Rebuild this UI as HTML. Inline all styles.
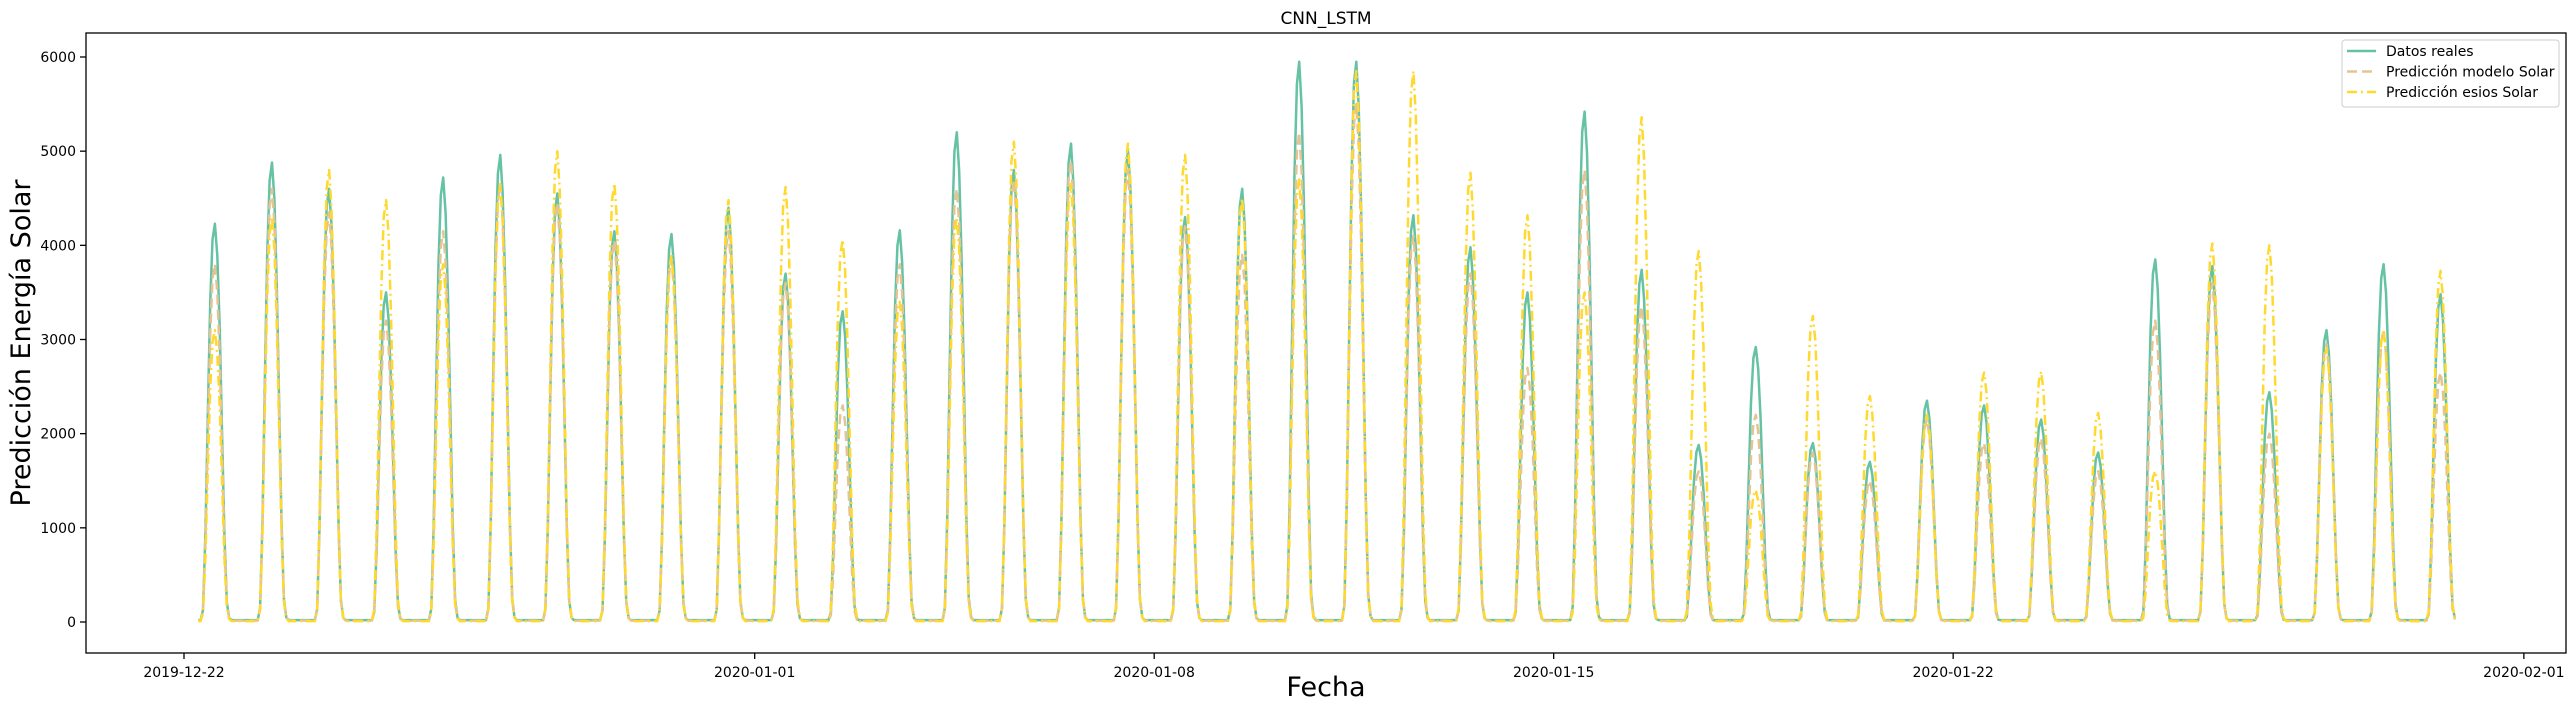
<!DOCTYPE html>
<html><head><meta charset="utf-8"><style>
html,body{margin:0;padding:0;background:#fff;}
svg{display:block;font-family:"DejaVu Sans","Liberation Sans",sans-serif;}
</style></head><body>
<svg id="chart" width="2575" height="711" viewBox="0 0 2575 711" xmlns="http://www.w3.org/2000/svg"></svg>
<script>
// Data (daily peaks, one per day from 2019-12-22 to 2020-01-30)
const startDate = "2019-12-22";
const realPeaks  = [4230,4880,4600,3500,4720,4960,4550,4150,4120,4400,3700,3300,4160,5200,4800,5080,5000,4300,4600,5950,5950,4320,3980,3500,5420,3740,1880,2920,1900,1700,2350,2300,2150,1800,3850,3780,2440,3100,3800,3480];
const modelPeaks = [3800,4600,4350,3200,4150,4650,4450,4050,3850,4150,3600,2300,3800,4600,4700,4900,4800,4200,3900,5200,5500,4100,3700,2700,4800,3350,1600,2200,1800,1500,2150,1900,1950,1600,3200,3600,2000,2950,3100,2650];
const esiosPeaks = [3100,4300,4800,4480,3800,4650,5000,4660,3900,4480,4620,4060,3400,4300,5100,4650,5080,4960,4500,4700,5850,5850,4770,4320,3500,5360,3940,1400,3250,2400,2200,2650,2660,2220,1600,4020,4000,2900,3100,3730];
// hourly shape of a day (fraction of daily peak), hours 0..23
const hourProfile = [0,0,0,0,0,0,0,0,0.03,0.22,0.52,0.8,0.96,1.0,0.92,0.74,0.48,0.22,0.05,0.01,0,0,0,0];
const nightBase = [20,15,10];
const firstHour = 6, lastHour = 19;
const yTicks = [0,1000,2000,3000,4000,5000,6000];
const xTickLabels = ["2019-12-22","2020-01-01","2020-01-08","2020-01-15","2020-01-22","2020-02-01"];
const xTickDays = [0,10,17,24,31,41];

const svg = document.getElementById('chart');
const NS = "http://www.w3.org/2000/svg";
const L=86, R=2566, T=33, B=653;
const x = d => 184 + d*57.07;            // d in days since startDate
const y = v => 622 - v*(565/6000);
function mk(tag, attrs){const e=document.createElementNS(NS,tag);for(const k in attrs)e.setAttribute(k,attrs[k]);svg.appendChild(e);return e;}

const series=[
 {peaks:realPeaks,color:"#66c2a5",dash:"",name:"series-datos-reales",base:nightBase[0]},
 {peaks:modelPeaks,color:"#e5c494",dash:"10,5",name:"series-prediccion-modelo",base:nightBase[1]},
 {peaks:esiosPeaks,color:"#ffd92f",dash:"10,4,2,4",name:"series-prediccion-esios",base:nightBase[2]}
];
series.forEach(s=>{
  let pts=[];
  for(let d=0; d<s.peaks.length; d++){
    for(let h=0; h<24; h++){
      if(d===0 && h<firstHour) continue;
      if(d===s.peaks.length-1 && h>lastHour) continue;
      const v = Math.max(s.base, s.peaks[d]*hourProfile[h]);
      pts.push(x(d+h/24).toFixed(1)+","+y(v).toFixed(1));
    }
  }
  const p=mk('polyline',{points:pts.join(" "),fill:"none",stroke:s.color,"stroke-width":2.5,"stroke-dasharray":s.dash,"stroke-linejoin":"round"});
  
  
});

const fr=mk('rect',{x:L,y:T,width:R-L,height:B-T,fill:"none",stroke:"#000","stroke-width":1.3});



yTicks.forEach(v=>{
  const t=mk('line',{x1:L-6,x2:L,y1:y(v),y2:y(v),stroke:"#000","stroke-width":1.3});
  
  
  const tx=mk('text',{x:L-10,y:y(v)+5,"text-anchor":"end","font-size":14,fill:"#000"});
  tx.textContent=v;
  
  
});
xTickDays.forEach((d,i)=>{
  const t=mk('line',{x1:x(d),x2:x(d),y1:B,y2:B+6,stroke:"#000","stroke-width":1.3});
  
  
  const tx=mk('text',{x:x(d),y:B+24,"text-anchor":"middle","font-size":14,fill:"#000"});
  tx.textContent=xTickLabels[i];
  
  
});

let e=mk('text',{x:(L+R)/2,y:24,"text-anchor":"middle","font-size":17,fill:"#000"});
e.textContent="CNN_LSTM";


e=mk('text',{x:(L+R)/2,y:696,"text-anchor":"middle","font-size":27,fill:"#000"});
e.textContent="Fecha";


e=mk('text',{x:0,y:0,"text-anchor":"middle","font-size":27,fill:"#000",transform:"translate(30,343) rotate(-90)"});
e.textContent="Predicción Energía Solar";



e=mk('rect',{x:2342,y:40,width:217,height:67,rx:3,fill:"#fff","fill-opacity":0.8,stroke:"#ccc","stroke-width":1});


const legNames=["Datos reales","Predicción modelo Solar","Predicción esios Solar"];
series.forEach((s,i)=>{
  const yy=51+i*20.5;
  const l=mk('line',{x1:2347,x2:2376,y1:yy,y2:yy,stroke:s.color,"stroke-width":2.5,"stroke-dasharray":s.dash});
  
  
  const t=mk('text',{x:2386,y:yy+5,"font-size":14,fill:"#000"});
  t.textContent=legNames[i];
  
  
});
</script>
</body></html>
